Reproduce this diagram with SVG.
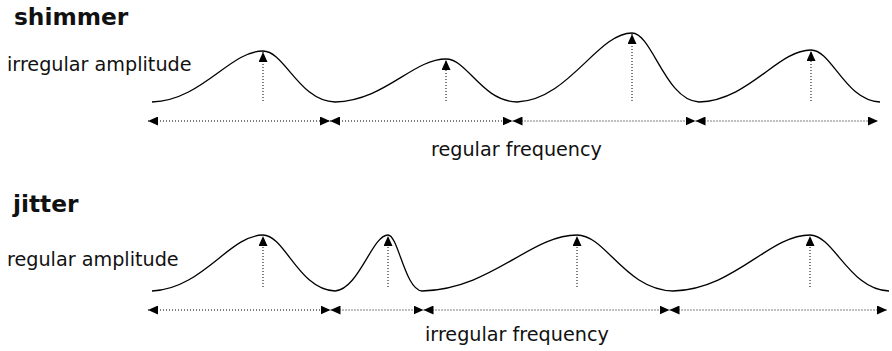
<svg xmlns="http://www.w3.org/2000/svg" width="892" height="351" viewBox="0 0 892 351">
<style>
.title{font-family:"DejaVu Sans",Verdana,sans-serif;font-weight:bold;font-size:23.3px;fill:#111}
.lbl{font-family:"DejaVu Sans",Verdana,sans-serif;font-size:19.2px;fill:#111}
.wave{fill:none;stroke:#000;stroke-width:1.3}
.dot{fill:none;stroke:#000;stroke-width:1;stroke-dasharray:1 2}
.arr{marker-start:url(#ah);marker-end:url(#ah)}
.up{marker-end:url(#ah)}
</style>
<defs>
<marker id="ah" viewBox="0 0 10 9" refX="10" refY="4.5" markerWidth="10" markerHeight="9" markerUnits="userSpaceOnUse" orient="auto-start-reverse">
<path d="M0,0 L10,4.5 L0,9 Z" fill="#000"/>
</marker>
</defs>
<rect width="892" height="351" fill="#fff"/>
<g id="shimmer">
<text class="title" x="14" y="24.5">shimmer</text>
<text class="lbl" x="7" y="71">irregular amplitude</text>
<text class="lbl" x="431" y="156">regular frequency</text>
<path class="wave" d="M152,102 C202,100.5 229.7,51 263,51 C284.6,51 299,101 335,102 C385,100.7 412.7,59 446,59 C467.3,59 481.5,101.1 517,102 C568.8,99.9 597.5,33 632,33 C652.1,33 665.5,100.6 699,102 C749.4,100.4 777.4,50 811,50 C831.7,50 845.5,101 880,102"/>
</g>
<g id="jitter">
<text class="title" x="13" y="212">jitter</text>
<text class="lbl" x="7" y="266">regular amplitude</text>
<text class="lbl" x="425" y="341">irregular frequency</text>
<path class="wave" d="M152,291 C202,289.3 229.7,235 263,235 C284.6,235 299,289.9 335,291 C358.9,289.3 372.1,235 388,235 C398.2,235 405,289.9 422,291 C491.8,289.3 530.5,235 577,235 C605.8,235 625,289.9 673,291 C734.7,289.3 768.9,235 810,235 C833.7,235 849.5,289.9 889,291"/>
</g>
<g id="connectors">
<line class="dot up" x1="263" y1="101" x2="263" y2="52"/>
<line class="dot up" x1="446" y1="101" x2="446" y2="60"/>
<line class="dot up" x1="632" y1="101" x2="632" y2="34"/>
<line class="dot up" x1="811" y1="101" x2="811" y2="51"/>
<line class="dot arr" x1="148" y1="121" x2="330" y2="121"/>
<line class="dot arr" x1="330" y1="121" x2="512.5" y2="121"/>
<line class="dot arr" x1="512.5" y1="121" x2="695.5" y2="121"/>
<line class="dot arr" x1="695.5" y1="121" x2="878" y2="121"/>
<line class="dot up" x1="263" y1="287" x2="263" y2="236"/>
<line class="dot up" x1="388" y1="287" x2="388" y2="236"/>
<line class="dot up" x1="577" y1="287" x2="577" y2="236"/>
<line class="dot up" x1="810" y1="287" x2="810" y2="236"/>
<line class="dot arr" x1="148" y1="310" x2="330.5" y2="310"/>
<line class="dot arr" x1="330.5" y1="310" x2="423.5" y2="310"/>
<line class="dot arr" x1="423.5" y1="310" x2="669.5" y2="310"/>
<line class="dot arr" x1="669.5" y1="310" x2="887" y2="310"/>
</g>
</svg>
